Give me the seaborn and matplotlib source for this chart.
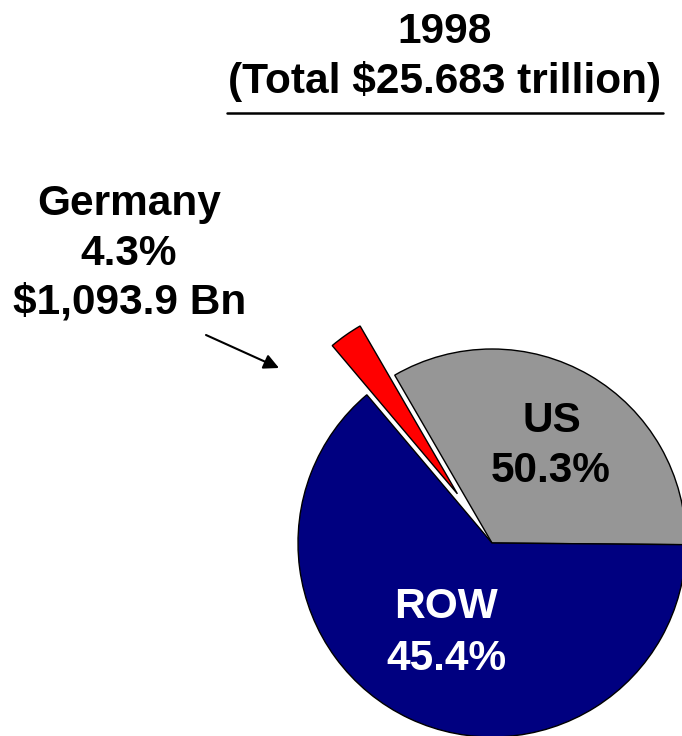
import matplotlib
matplotlib.use("Agg")
import matplotlib.pyplot as plt
from matplotlib.lines import Line2D
import seaborn as sns

# chart data
regions = ["US", "Germany", "ROW"]
share_labels = ["50.3%", "4.3%", "45.4%"]
# wedge sizes as drawn in the picture (percent of the circle)
wedge_sizes = [33.5, 2.8, 63.7]
region_colors = ["#969696", "#ff0000", "#000080"]
title_lines = ["1998", "(Total $25.683 trillion)"]
germany_amount = "$1,093.9 Bn"

W, H = 682, 736
DPI = 100

sns.set_style("white")
plt.rcParams["font.family"] = ["Liberation Sans", "DejaVu Sans"]

fig = plt.figure(figsize=(W / DPI, H / DPI), dpi=DPI)
ax = fig.add_axes([0, 0, 1, 1])

# pie centre and radius in pixels of the reference
cx, cy, r = 492, 543, 194

ax.pie(wedge_sizes, colors=region_colors, startangle=-0.5, counterclock=True,
       explode=[0, 0.31, 0],
       wedgeprops=dict(edgecolor="black", linewidth=1.0))
ax.set_xlim(-cx / r, (W - cx) / r)
ax.set_ylim(-(H - cy) / r, cy / r)
ax.set_position([0, 0, 1, 1])
ax.axis("off")


def fpos(x, y):
    # image pixel (from top-left) to figure fraction
    return x / W, 1 - y / H


def put(text, x, y, color="black", size=30.5):
    fx, fy = fpos(x, y)
    fig.text(fx, fy, text, ha="center", va="baseline", color=color,
             fontsize=size, fontweight="bold")


# title
put(title_lines[0], 445, 43)
put(title_lines[1], 445, 93)
x0, y0 = fpos(227, 113)
x1, _ = fpos(663, 113)
fig.add_artist(Line2D([x0, x1], [y0, y0], color="black", linewidth=1.8,
                      transform=fig.transFigure))

# slice labels
put(regions[0], 552, 432)
put(share_labels[0], 551, 482)
put(regions[2], 446, 618, color="white")
put(share_labels[2], 446, 670, color="white")

put(regions[1], 129, 215)
put(share_labels[1], 129, 265)
put(germany_amount, 130, 313)

# arrow to the Germany slice
ax.annotate("", xy=fpos(279, 368), xycoords="figure fraction",
            xytext=fpos(206, 335), textcoords="figure fraction",
            arrowprops=dict(arrowstyle="-|>,head_length=0.9,head_width=0.45",
                            color="black", linewidth=1.5, shrinkA=0, shrinkB=0))

fig.savefig("out.png", dpi=DPI)
